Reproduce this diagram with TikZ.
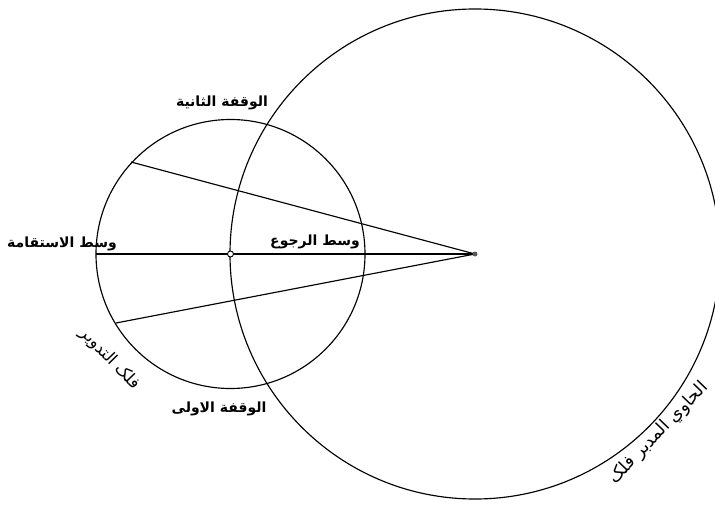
\documentclass[tikz,border=0pt]{standalone}
\usepackage{fontspec}
\TeXXeTstate=1
\newfontfamily\arabicfont[Script=Arabic]{DejaVu Sans}
\begin{document}
\begin{tikzpicture}[x=1pt,y=-1pt,
  circ/.style={draw=black,line width=1.15pt},
  lin/.style={draw=black,line width=1.15pt},
  lbl/.style={font=\arabicfont\bfseries\fontsize{14}{17}\selectfont,inner sep=0pt},
  lblr/.style={font=\arabicfont\fontsize{16.5}{19}\selectfont,inner sep=0pt}]
\useasboundingbox (0,0) rectangle (715,508);
\coordinate (E) at (475,254);
\coordinate (C) at (230.5,254);
\coordinate (L) at (96,254);
\coordinate (U) at (131,162);
\coordinate (D) at (116,323);
% deferent
\draw[circ] (E) circle[radius=245];
% epicycle
\draw[circ] (C) circle[radius=134.5];
% lines
\draw[lin] (L) -- (E);
\draw[lin] (U) -- (E);
\draw[lin] (D) -- (E);
% centres
\fill[gray!70!black] (E) circle[radius=2.5];
\draw[black,fill=white,line width=0.9pt] (C) circle[radius=3];
% labels
\node[lbl] (t1) at (222,103) {\beginR الوقفة الثانية\endR};
\node[lbl] (t2) at (219,409) {\beginR الوقفة الاولى\endR};
\node[lbl] (t3) at (62,244) {\beginR وسط الاستقامة\endR};
\node[lbl] (t4) at (315,242) {\beginR وسط الرجوع\endR};
\node[lblr,rotate=-46] (t5) at (110,359) {\beginR فلک التدویر\endR};
\node[lblr,font=\arabicfont\fontsize{17.5}{20}\selectfont,rotate=46] (t6) at (659,433) {\beginR الحاوي المدبر فلک\endR};
\end{tikzpicture}
\end{document}
